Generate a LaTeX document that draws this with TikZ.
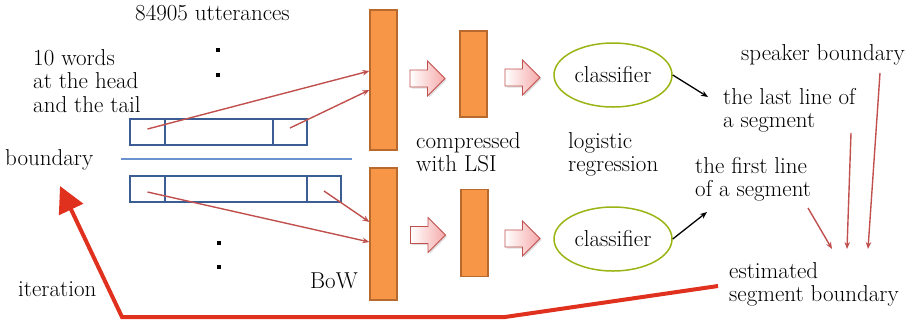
\documentclass[tikz,border=0pt]{standalone}
\usetikzlibrary{arrows.meta,shapes.geometric,shadows,calc}

\definecolor{barfill}{HTML}{F79646}
\definecolor{barline}{HTML}{B8692E}
\definecolor{boxblue}{HTML}{3A5E93}
\definecolor{sepblue}{HTML}{6A92CF}
\definecolor{linkred}{HTML}{C0504D}
\definecolor{loopred}{HTML}{E0301E}
\definecolor{olive}{HTML}{9AB414}
\definecolor{pinkfill}{HTML}{F6A9A9}

\tikzset{
  pics/fatarrow/.style={code={
    \path[draw=linkred, line width=0.8pt, left color=white, right color=pinkfill,
          drop shadow={opacity=0.25, shadow xshift=1.5pt, shadow yshift=-1.5pt}]
      (-17.5,-8.5) -- (0,-8.5) -- (0,-17.5) -- (17.5,0) -- (0,17.5) -- (0,8.5) -- (-17.5,8.5) -- cycle;
  }}
}

\begin{document}
\begin{tikzpicture}[x=1pt,y=-1pt,
  txt/.style={font=\fontsize{23}{23.5}\selectfont, inner sep=0pt},
  lbl/.style={txt, align=left, anchor=north west},
  one/.style={txt, anchor=base west},
  bar/.style={draw=barline, fill=barfill, line width=1.2pt, minimum width=27pt, inner sep=0pt},
  cell/.style={draw=boxblue, line width=1.5pt, minimum height=26pt, inner sep=0pt},
  clf/.style={ellipse, draw=olive, line width=1.5pt, minimum width=118pt, minimum height=64pt,
              inner sep=0pt, font=\fontsize{23}{23.5}\selectfont},
  link/.style={draw=linkred, line width=1.4pt, -{Stealth[length=7pt,width=5.5pt]}},
  pointer/.style={draw=black, line width=1.3pt, -{Stealth[length=7pt,width=5.5pt]}},
  dotmark/.style={fill=black, minimum size=4pt, inner sep=0pt},
]
\useasboundingbox (0,0) rectangle (912,322);

% text labels
\node[one] (utt) at (135,20) {84905 utterances};
\node[lbl] (words) at (33,49) {10 words\\at the head\\and the tail};
\node[one] (bnd) at (5,165) {boundary};
\node[one] (iter) at (18,296) {iteration};
\node[one] (bow) at (310,288) {BoW};
\node[lbl] (lsi) at (416,132) {compressed\\with LSI};
\node[lbl] (logit) at (568,132) {logistic\\regression};
\node[one] (spk) at (741,60) {speaker boundary};
\node[lbl] (last) at (723,88) {the last line of\\a segment};
\node[lbl] (first) at (695,157) {the first line\\of a segment};
\node[lbl] (est) at (729,262) {estimated\\segment boundary};

% ellipsis dots
\node[dotmark] (d1) at (218,50) {};
\node[dotmark] (d2) at (218,75) {};
\node[dotmark] (d3) at (219,243) {};
\node[dotmark] (d4) at (219,267) {};

% utterance boxes: head, middle, tail
\node[cell, minimum width=35pt] (ua) at (147.5,132) {};
\node[cell, minimum width=108pt] (ub) at (219,132) {};
\node[cell, minimum width=34pt] (uc) at (290,132) {};
\node[cell, minimum width=35pt] (la) at (147.5,189) {};
\node[cell, minimum width=142pt] (lb) at (236,189) {};
\node[cell, minimum width=34pt] (lc) at (324,189) {};

% boundary separator
\coordinate (b1) at (121,159);
\coordinate (b2) at (352,159);
\draw[sepblue, line width=1.2pt] (b1) -- (b2);

% feature vectors
\node[bar, minimum height=140pt] (bow1) at (383.5,80) {};
\node[bar, minimum height=132pt] (bow2) at (383.5,234) {};
\node[bar, minimum height=86pt] (lsi1) at (473.5,74) {};
\node[bar, minimum height=87pt] (lsi2) at (474.5,233) {};

% block arrows
\pic at (427.5,78.5) {fatarrow};
\pic at (522.5,77.5) {fatarrow};
\pic at (428,235) {fatarrow};
\pic at (522.5,238.5) {fatarrow};

% classifiers
\node[clf] (c1) at (613,75) {classifier};
\node[clf] (c2) at (613,239) {classifier};

% words into BoW
\draw[link] ([yshift=3pt]ua.center) -- ([yshift=9pt]bow1.west);
\draw[link] ([yshift=4pt]uc.center) -- ([yshift=-10pt]bow1.west);
\draw[link] ([yshift=-3pt]la.center) -- ([yshift=-8pt]bow2.west);
\draw[link] ([yshift=-2pt]lc.center) -- ([yshift=12pt]bow2.west);

% classifier outputs
\coordinate (p1) at (708,97);
\coordinate (p2) at (707,212);
\draw[pointer] (c1.east) -- (p1);
\draw[pointer] (c2.east) -- (p2);

% merging into the estimated boundary
\coordinate (s1) at (808,208);
\coordinate (e1) at (832,249);
\coordinate (s2) at (851,133);
\coordinate (e2) at (847,249);
\coordinate (s3) at (880,73);
\coordinate (e3) at (868,249);
\draw[link] (s1) -- (e1);
\draw[link] (s2) -- (e2);
\draw[link] (s3) -- (e3);

% iteration loop
\coordinate (it0) at (718,286);
\coordinate (it1) at (60,186);
\draw[loopred, line width=4pt, line join=miter, -{Triangle[length=26pt,width=26pt]}]
  (it0) -- (505,317) -- (122,317) -- (it1);
\end{tikzpicture}
\end{document}
